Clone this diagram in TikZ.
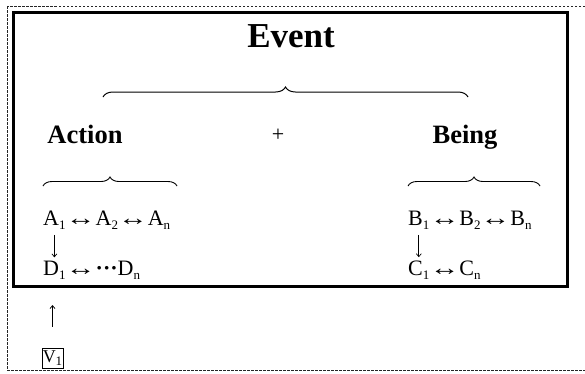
\documentclass[tikz,border=0pt]{standalone}
\usepackage{fontspec}
\setmainfont{Liberation Serif}
\usetikzlibrary{positioning, calc, arrows.meta, decorations.pathreplacing}
\newcommand{\lowsub}[1]{\raisebox{-0.45ex}{\fontsize{13}{13}\selectfont #1}}
\newcommand{\dblarr}{\scalebox{1.35}[1]{↔}}
\tikzset{
  % frames
  outerframe/.style = { draw=black!85, line width=1pt, dash pattern=on 2.5pt off 1.5pt },
  eventbox/.style   = { draw, line width=3pt },
  % texts
  titletext/.style  = { font=\fontsize{35}{40}\selectfont\bfseries, inner sep=0 },
  parttext/.style   = { font=\fontsize{26.5}{30}\selectfont\bfseries, inner sep=0 },
  plustext/.style   = { font=\fontsize{22}{22}\selectfont, inner sep=0 },
  rowtext/.style    = { font=\fontsize{22}{24}\selectfont, inner sep=0, anchor=base west },
  % braces and links
  bigbrace/.style   = { decorate, decoration={brace, amplitude=10pt}, line width=1pt },
  smallbrace/.style = { decorate, decoration={brace, amplitude=9pt}, line width=0.9pt },
  glyphlink/.style  = { line width=0.7pt, -{Straight Barb[length=3pt, width=5pt]} },
  vbox/.style       = { draw, line width=0.8pt, minimum width=21pt, minimum height=20pt,
                        inner sep=0, font=\fontsize{18}{18}\selectfont }
}
\begin{document}
\begin{tikzpicture}[x=1pt, y=1pt]

  \useasboundingbox (0,0) rectangle (585,-373);
  \draw[outerframe] (7,-6) rectangle (600,-370);
  \draw[eventbox] (13,-12) rectangle (567,-286);

  \node[titletext, anchor=base] (event) at (291,-47) {Event};
  \draw[bigbrace] (103,-97) -- (468,-97);

  \node[parttext, anchor=base] (action) at (85,-143) {Action};
  \node[plustext] (plus) at (278,-135) {+};
  \node[parttext, anchor=base] (being) at (465,-143) {Being};

  \draw[smallbrace] (43,-186) -- (177,-186);
  \draw[smallbrace] (408,-186) -- (540,-186);

  % action side
  \node[rowtext] (a1) at (43,-225) {A\lowsub{1}};
  \node[rowtext] (arest) at (a1.base east) {\dblarr A\lowsub{2}\dblarr A\lowsub{n}};
  \node[rowtext] (d1) at (43,-275) {D\lowsub{1}};
  \node[rowtext] (drest) at (d1.base east) {\dblarr{\bfseries···}D\lowsub{n}};

  % being side
  \node[rowtext] (b1) at (408,-225) {B\lowsub{1}};
  \node[rowtext] (brest) at (b1.base east) {\dblarr B\lowsub{2}\dblarr B\lowsub{n}};
  \node[rowtext] (c1) at (408,-275) {C\lowsub{1}};
  \node[rowtext] (crest) at (c1.base east) {\dblarr C\lowsub{n}};

  \draw[glyphlink, shorten <=5pt, shorten >=3pt] (a1.south) -- (d1.north);
  \draw[glyphlink, shorten <=5pt, shorten >=3pt] (b1.south) -- (c1.north);

  \node[vbox] (v1) at (52.5,-358) {V\lowsub{1}};
  \coordinate (vtip) at (52.5,-305);
  \draw[glyphlink, shorten <=21pt] (v1.north) -- (vtip);

\end{tikzpicture}
\end{document}
